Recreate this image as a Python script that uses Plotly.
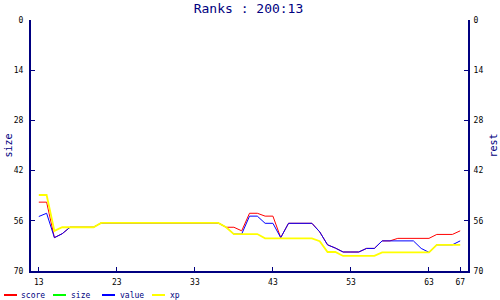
import plotly.graph_objects as go

# ---- data ----
rounds = list(range(13, 68))

score = [50.8, 50.8, 60.7, 59.6, 57.8, 57.8, 57.8, 57.8] + [56.6] * 16 + \
        [57.8, 57.8, 58.8, 53.9, 53.9, 54.7, 54.7, 60.7, 56.7, 56.7, 56.7, 56.7,
         59.1, 62.7, 63.6, 64.7, 64.7, 64.7, 63.7, 63.7, 61.6, 61.6,
         60.9, 60.9, 60.9, 60.9, 60.9, 59.8, 59.8, 59.8, 58.8]
size = [None] * 55
value = [54.8, 53.9, 60.7, 59.6, 57.8, 57.8, 57.8, 57.8] + [56.6] * 16 + \
        [57.8, 59.7, 59.7, 54.7, 54.7, 56.7, 56.7, 60.7, 56.7, 56.7, 56.7, 56.7,
         59.1, 62.7, 63.6, 64.7, 64.7, 64.7, 63.7, 63.7, 61.6, 61.6,
         61.6, 61.6, 61.6, 63.7, 64.8, 62.7, 62.7, 62.7, 61.6]
xp = [48.8, 48.8, 58.8, 57.8, 57.8, 57.8, 57.8, 57.8] + [56.6] * 16 + \
     [57.8, 59.7, 59.7, 59.7, 59.7, 60.9, 60.9, 60.9, 60.9, 60.9, 60.9, 60.9,
      61.7, 64.7, 64.7, 65.8, 65.8, 65.8, 65.8, 65.8, 64.8, 64.8,
      64.8, 64.8, 64.8, 64.8, 64.8, 62.7, 62.7, 62.7, 62.7]

series_names = ["score", "size", "value", "xp"]
series_colors = ["#ff0000", "#00ff00", "#0000ff", "#ffff00"]
series_widths = [1, 1, 1, 1.8]
series_values = [score, size, value, xp]

x_ticks = [13, 23, 33, 43, 53, 63, 67]
y_ticks = [0, 14, 28, 42, 56, 70]
title_text = "Ranks : 200:13"

# ---- layout constants ----
W, H = 500, 300
ML, MR, MT, MB = 31, 32, 20, 29
PW, PH = W - ML - MR, H - MT - MB
NAVY = "#000080"
MONO = "DejaVu Sans Mono"


def px_x(p):
    return (p - ML) / PW


def px_y(p):
    return (H - MB - p) / PH


fig = go.Figure()
for name, color, width, vals in zip(series_names, series_colors, series_widths, series_values):
    fig.add_trace(go.Scatter(x=rounds, y=vals, mode="lines", name=name,
                             line=dict(color=color, width=width), showlegend=False))
# invisible trace to activate right axis
fig.add_trace(go.Scatter(x=[rounds[0]], y=[0], yaxis="y2", mode="markers",
                         marker=dict(opacity=0), showlegend=False, hoverinfo="skip"))

axis_common = dict(showgrid=False, zeroline=False, showline=True, linecolor=NAVY,
                   linewidth=2, ticks="inside", ticklen=4, tickcolor=NAVY, tickwidth=1,
                   tickfont=dict(family=MONO, size=8, color="#000000"))

fig.update_layout(
    width=W, height=H,
    margin=dict(l=ML, r=MR, t=MT, b=MB),
    paper_bgcolor="white", plot_bgcolor="white",
    showlegend=False,
    title=dict(text=title_text, x=0.497, xref="container", xanchor="center",
               y=1 - 8 / H, yref="container", yanchor="middle",
               font=dict(family=MONO, size=13, color=NAVY)),
    xaxis=dict(range=[12, 68], tickvals=x_ticks, ticklabelstandoff=2, **axis_common),
    yaxis=dict(range=[70, 0], tickvals=y_ticks, ticklabelstandoff=4, **axis_common),
    yaxis2=dict(range=[70, 0], tickvals=y_ticks, overlaying="y", side="right",
                ticklabelstandoff=2, **axis_common),
)

annotations = [
    dict(text="size", xref="paper", yref="paper", x=px_x(8), y=0.5, textangle=-90,
         showarrow=False, xanchor="center", yanchor="middle",
         font=dict(family=MONO, size=10, color=NAVY)),
    dict(text="rest", xref="paper", yref="paper", x=px_x(493), y=0.5, textangle=-90,
         showarrow=False, xanchor="center", yanchor="middle",
         font=dict(family=MONO, size=10, color=NAVY)),
]
shapes = []
leg_line_x = [4, 53, 102, 152]
leg_text_x = [19, 69, 118, 168]
leg_y = 295
for name, color, lx, tx in zip(series_names, series_colors, leg_line_x, leg_text_x):
    shapes.append(dict(type="line", xref="paper", yref="paper",
                       x0=px_x(lx), x1=px_x(lx + 13), y0=px_y(leg_y), y1=px_y(leg_y),
                       line=dict(color=color, width=2)))
    annotations.append(dict(text=name, xref="paper", yref="paper", x=px_x(tx),
                            y=px_y(leg_y), xanchor="left", yanchor="middle",
                            showarrow=False,
                            font=dict(family=MONO, size=8, color=NAVY)))

fig.update_layout(annotations=annotations, shapes=shapes)
fig.write_html("out.html")
